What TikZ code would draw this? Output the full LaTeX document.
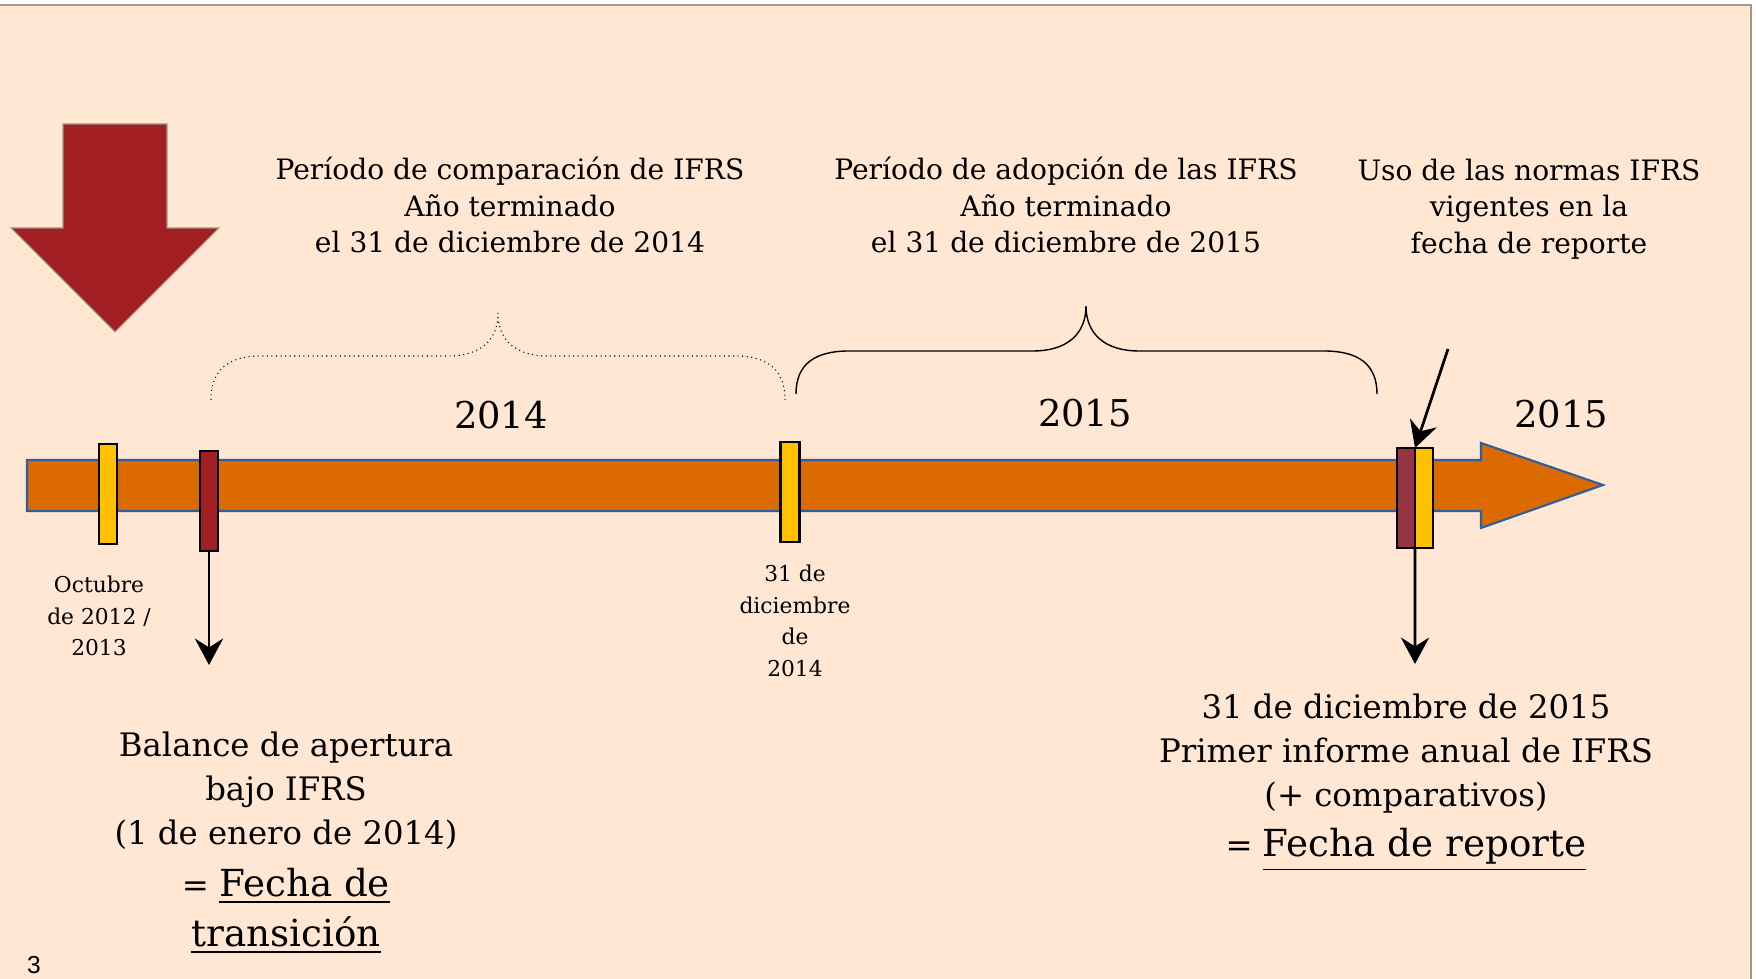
\documentclass[tikz,border=0pt]{standalone}
\usepackage{fontspec}
\setmainfont{DejaVu Serif}
\newfontfamily\pagefont{Liberation Sans}
\usetikzlibrary{calc}
\usetikzlibrary{shapes,arrows.meta}

\definecolor{paper}{HTML}{FFE7D3}
\definecolor{frameline}{HTML}{A39A84}
\definecolor{bigred}{HTML}{A11F22}
\definecolor{lineorange}{HTML}{DB6A00}
\definecolor{lineblue}{HTML}{2F5E9E}
\definecolor{markyellow}{HTML}{FFC000}
\definecolor{markred}{HTML}{953543}
\newcommand{\bigfont}{\fontsize{10.6}{14}\selectfont}

\begin{document}
\begin{tikzpicture}[x=0.1mm,y=-0.1mm,
    marker/.style={draw=black,line width=0.6pt,inner sep=0pt,outer sep=0pt,minimum width=1.8mm,minimum height=10mm},
    tickarrow/.style={-{Stealth[length=7.5pt,width=8pt,inset=2.5pt]},line width=0.8pt},
    toptext/.style={align=center,font=\fontsize{8}{10.4}\selectfont},
    yeartext/.style={font=\fontsize{10.5}{12}\selectfont},
    datetext/.style={align=center,font=\fontsize{6.2}{9}\selectfont},
    bottext/.style={align=center,font=\fontsize{9.2}{12.4}\selectfont}]
    % page
    \useasboundingbox (0,0) rectangle (1756,979);
    \fill[white] (0,0) rectangle (1756,979);
    \fill[paper] (0,5) rectangle (1751,979);
    \draw[frameline,line width=0.8pt] (-10,5)--(1751,5)--(1751,990);
    % big arrow
    \draw[fill=bigred,draw=frameline,line width=0.3pt] (63,124)--(167,124)--(167,228)--(219,228)--(115,332)--(11,228)--(63,228)--cycle;
    % time line
    \draw[fill=lineorange,draw=lineblue,line width=0.6pt] (27,460)--(1481,460)--(1481,443)--(1603,485)--(1481,528)--(1481,511)--(27,511)--cycle;
    % braces
    \draw[densely dotted,line width=0.3pt] (211,400) .. controls (211,370) and (228,356) .. (261,356) -- (448,356) .. controls (481,356) and (498,340) .. (498,313) .. controls (498,340) and (515,356) .. (548,356) -- (735,356) .. controls (768,356) and (785,370) .. (785,400);
    \draw[line width=0.4pt] (796,394) .. controls (796,364) and (815,351) .. (849,351) -- (1033,351) .. controls (1067,351) and (1086,334) .. (1086,306) .. controls (1086,334) and (1105,351) .. (1139,351) -- (1324,351) .. controls (1358,351) and (1377,364) .. (1377,394);
    % markers
    \node[marker,fill=markyellow] (Oct) at (108,494) {};
    \node[marker,fill=bigred] (Open) at (209,501) {};
    \node[marker,fill=markyellow,minimum width=1.9mm] (Dec14) at (790,492) {};
    \node[marker,fill=markred] (Rep) at (1406,498) {};
    \node[marker,fill=markyellow] (Rep2) at (1424,498) {};
    % arrows
    \coordinate (OpenEnd) at (209,665);
    \coordinate (RepEnd) at (1415,664);
    \coordinate (UseStart) at (1448,349);
    \draw[tickarrow] (Open.south)--(OpenEnd);
    \draw[tickarrow] (Rep.south east)--(RepEnd);
    \draw[tickarrow] (UseStart)--(Rep.north east);
    % texts
    \node[toptext] (Cmp) at (510,205) {Período de comparación de IFRS\\Año terminado\\el 31 de diciembre de 2014};
    \node[toptext] (Adp) at (1066,205) {Período de adopción de las IFRS\\Año terminado\\el 31 de diciembre de 2015};
    \node[toptext] (Use) at (1529,209) {Uso de las normas IFRS\\vigentes en la\\fecha de reporte};
    \node[yeartext] (Y14) at (501,415) {2014};
    \node[yeartext] (Y15) at (1085,413) {2015};
    \node[yeartext] (Y15b) at (1561,414) {2015};
    \node[datetext] (OctTxt) at (99,616) {Octubre\\de 2012 /\\2013};
    \node[datetext] (DecTxt) at (795,621) {31 de\\diciembre\\de\\2014};
    \node[bottext,anchor=north] (OpenTxt) at (286,720) {Balance de apertura\\bajo IFRS\\(1 de enero de 2014)\\[2.5pt]= {\bigfont\underline{Fecha de}}\\[1.8pt]{\bigfont\underline{transición}}};
    \node[bottext,anchor=north] (RepTxt) at (1406,682) {31 de diciembre de 2015\\Primer informe anual de IFRS\\(+ comparativos)\\[2pt]= {\bigfont\underline{Fecha de reporte}}};
    \node[font=\pagefont\fontsize{7}{8}\selectfont,inner sep=0pt] (Page) at (34,965) {3};
\end{tikzpicture}
\end{document}
